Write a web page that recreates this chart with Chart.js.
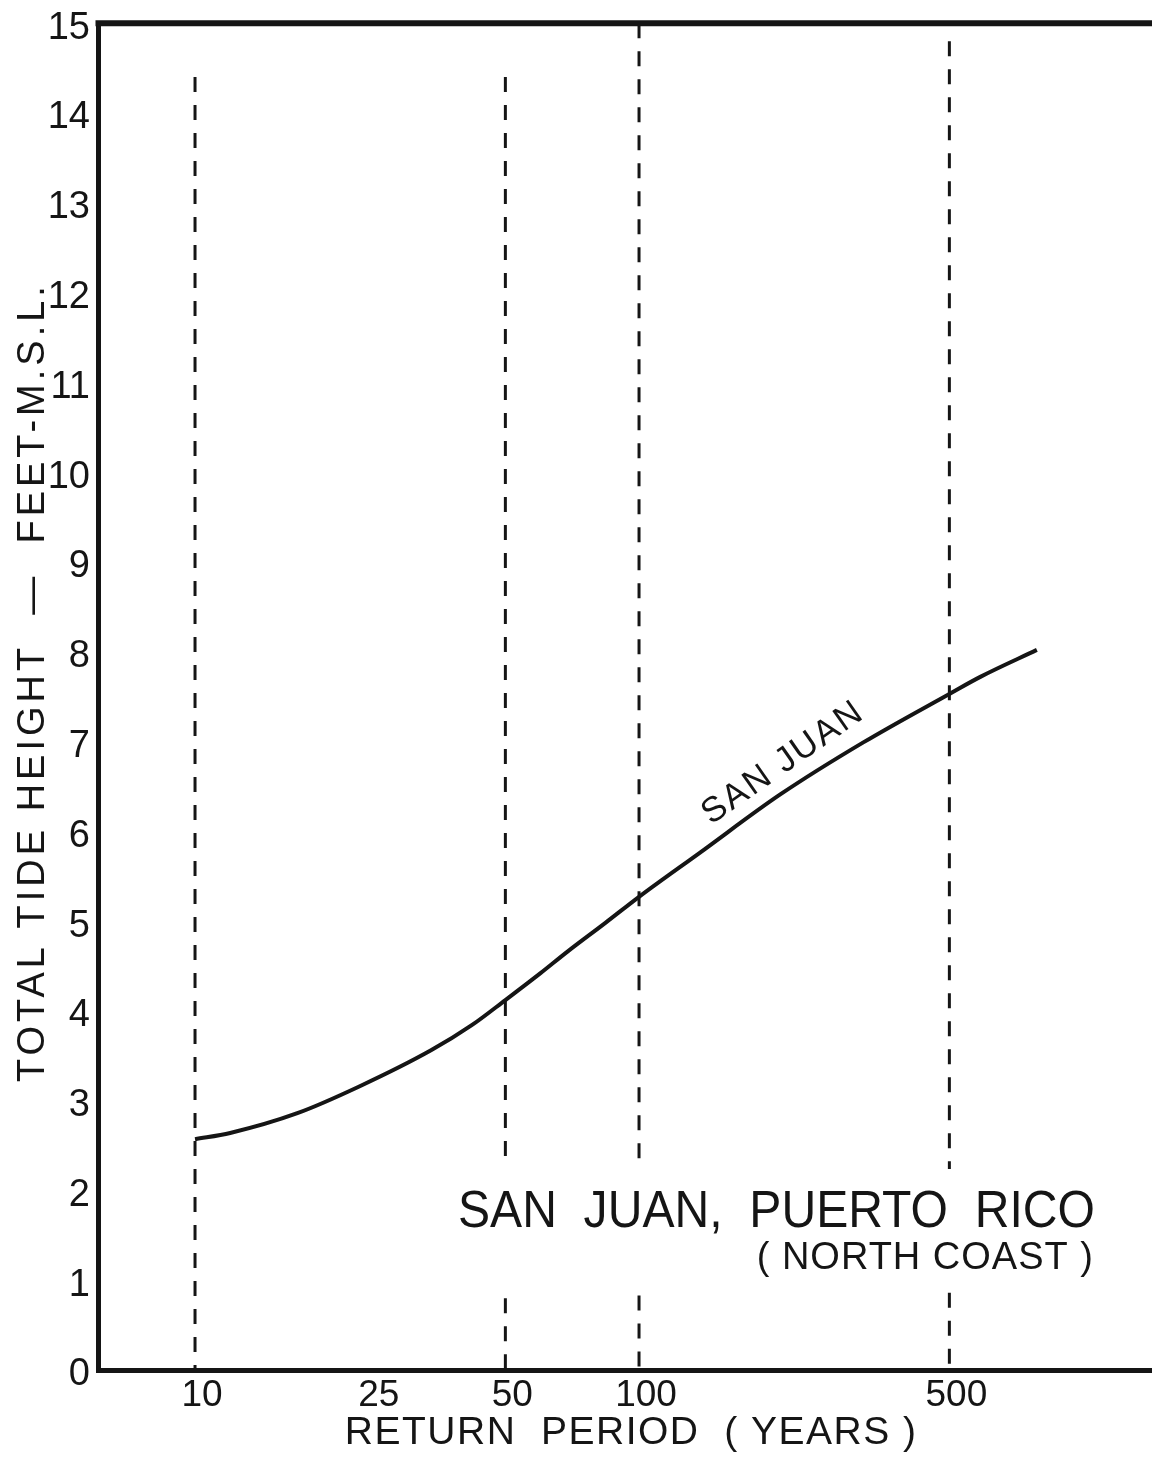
<!DOCTYPE html>
<html>
<head>
<meta charset="utf-8">
<script src="https://cdn.jsdelivr.net/npm/chart.js@4.4.1/dist/chart.umd.min.js"></script>
<style>
  html, body { margin: 0; padding: 0; background: #fff; }
  #wrap { width: 1152px; height: 1459px; }
</style>
</head>
<body>
<div id="wrap"><canvas id="tide"></canvas></div>
<script>
// San Juan curve: return period (years) vs total tide height (ft MSL)
const returnPeriods = [10, 12, 17, 23.5, 34, 42, 50, 60, 69, 84, 100, 137, 208, 320, 500, 587, 787];
const tideHeights = [2.57, 2.64, 2.86, 3.16, 3.56, 3.84, 4.12, 4.42, 4.66, 4.98, 5.27, 5.76, 6.41, 6.99, 7.53, 7.72, 8.02];

// dashed guide lines: top end, and the break left open around the station label
const guideYears = [10, 50, 100, 500];
const guideTops = [14.4, 14.4, 15, 14.8];
const guideGapTop = [null, 2.28, 2.33, 2.24];
const guideGapBottom = [null, 0.8, 0.83, 0.86];

const xTickValues = [10, 25, 50, 100, 500];
const yTickValues = [0, 1, 2, 3, 4, 5, 6, 7, 8, 9, 10, 11, 12, 13, 14, 15];

const ink = '#151515';
const family = "'Liberation Sans', Arial, sans-serif";

const titleSpacing = { x: '1.5px', y: '4px' };

function guideDataset(year, i) {
  let pts = [{ x: year, y: guideTops[i] }];
  if (guideGapTop[i] !== null) {
    pts.push({ x: year, y: guideGapTop[i] });
    pts.push({ x: year, y: null });
    pts.push({ x: year, y: guideGapBottom[i] });
  }
  pts.push({ x: year, y: 0 });
  return {
    data: pts,
    borderColor: ink,
    borderWidth: 3,
    borderDash: [15, 13],
    pointRadius: 0,
    tension: 0,
    spanGaps: false
  };
}

// text drawn on the plot, placed in data units
function drawNotes(chart) {
  const ctx = chart.ctx;
  const area = chart.chartArea;
  const x = chart.scales.x;
  const y = chart.scales.y;

  ctx.save();
  // top edge of the frame
  ctx.strokeStyle = ink;
  ctx.lineWidth = 6;
  ctx.beginPath();
  ctx.moveTo(area.left - 2.5, area.top);
  ctx.lineTo(area.right, area.top);
  ctx.stroke();

  ctx.fillStyle = ink;

  // label along the curve
  ctx.save();
  ctx.translate(x.getPixelForValue(211), y.getPixelForValue(6.76));
  ctx.rotate(-35 * Math.PI / 180);
  ctx.font = '35px ' + family;
  ctx.letterSpacing = '2px';
  ctx.textAlign = 'center';
  ctx.textBaseline = 'middle';
  ctx.fillText('SAN JUAN', 0, 0);
  ctx.restore();

  // station name, squeezed to the width it has on the sheet
  ctx.save();
  ctx.font = '52px ' + family;
  ctx.textBaseline = 'alphabetic';
  ctx.textAlign = 'left';
  let name = 'SAN  JUAN,  PUERTO  RICO';
  let w = ctx.measureText(name).width;
  let right = x.getPixelForValue(1064);
  ctx.translate(right - 637, y.getPixelForValue(1.59));
  ctx.scale(637 / w, 1);
  ctx.fillText(name, 0, 0);
  ctx.restore();

  ctx.save();
  ctx.font = '38px ' + family;
  ctx.letterSpacing = '1px';
  ctx.textAlign = 'right';
  ctx.textBaseline = 'alphabetic';
  ctx.fillText('( NORTH COAST )', x.getPixelForValue(1053) + 1, y.getPixelForValue(1.13));
  ctx.restore();

  ctx.restore();
}

const notes = {
  id: 'notes',
  beforeDraw(chart) {
    // wider letter spacing for the axis titles only
    Object.values(chart.scales).forEach(function(scale) {
      if (scale._spaced) return;
      const orig = scale.drawTitle;
      scale.drawTitle = function() {
        this.ctx.save();
        this.ctx.letterSpacing = titleSpacing[this.id] || '0px';
        orig.call(this);
        this.ctx.restore();
      };
      scale._spaced = true;
    });
  },
  afterDraw(chart) {
    drawNotes(chart);
  }
};

document.addEventListener('DOMContentLoaded', () => {
  let curve = returnPeriods.map(function(p, i) {
    return { x: p, y: tideHeights[i] };
  });

  let datasets = [{
    data: curve,
    borderColor: ink,
    borderWidth: 4,
    pointRadius: 0,
    cubicInterpolationMode: 'monotone'
  }].concat(guideYears.map(guideDataset));

  new Chart(document.getElementById('tide'), {
    type: 'line',
    data: { datasets: datasets },
    options: {
      responsive: true,
      maintainAspectRatio: false,
      animation: false,
      layout: { padding: { top: 18, right: 0, bottom: 0, left: 0 } },
      plugins: {
        legend: { display: false },
        tooltip: { enabled: false }
      },
      scales: {
        x: {
          type: 'logarithmic',
          min: 6.046,
          max: 1430,
          afterBuildTicks: function(s) {
            s.ticks = xTickValues.map(v => ({ value: v }));
          },
          afterFit: function(s) { s.height = 89; },
          grid: { display: false, drawTicks: false },
          border: { display: true, width: 5, color: ink },
          ticks: {
            autoSkip: false,
            maxRotation: 0,
            padding: 7,
            labelOffset: 7,
            color: ink,
            font: { family: family, size: 37, lineHeight: 1 },
            callback: v => String(v)
          },
          title: {
            display: true,
            // leading space nudges the centred title right, as on the sheet
            text: ' RETURN  PERIOD  ( YEARS )',
            color: ink,
            font: { family: family, size: 39, lineHeight: 1.2 },
            padding: { top: 0, bottom: 2 }
          }
        },
        y: {
          min: 0,
          max: 15,
          afterBuildTicks: function(s) {
            s.ticks = yTickValues.map(v => ({ value: v }));
          },
          afterFit: function(s) { s.width = 98; },
          grid: { display: false, drawTicks: false },
          border: { display: true, width: 5, color: ink },
          ticks: {
            autoSkip: false,
            padding: 8,
            labelOffset: 5,
            color: ink,
            font: { family: family, size: 38, lineHeight: 0.8 },
            callback: v => String(v)
          },
          title: {
            display: true,
            // leading spaces push the rotated title up a little
            text: '  TOTAL TIDE HEIGHT  —  FEET-M.S.L.',
            color: ink,
            font: { family: family, size: 38, lineHeight: 1.2 },
            padding: { top: 11, bottom: 0 }
          }
        }
      }
    },
    plugins: [notes]
  });
});
</script>
</body>
</html>
